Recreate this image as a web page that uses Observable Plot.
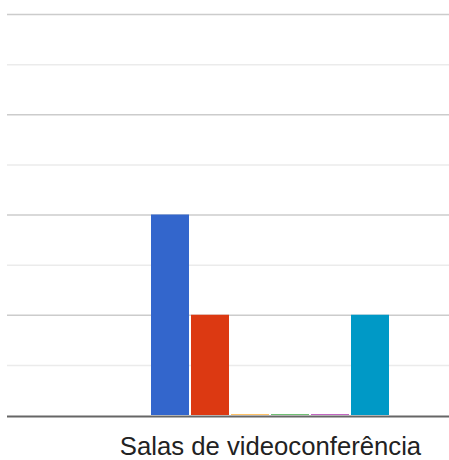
<!DOCTYPE html>
<html>
<head>
<meta charset="utf-8">
<script src="https://cdn.jsdelivr.net/npm/d3@7"></script>
<script src="https://cdn.jsdelivr.net/npm/@observablehq/plot@0.6"></script>
<style>
  html, body { margin: 0; padding: 0; background: #fff; overflow: hidden; }
</style>
</head>
<body>
<div id="chart"></div>
<script>
const category = "Salas de videoconferência";
const series = ["Série 1", "Série 2", "Série 3", "Série 4", "Série 5", "Série 6"];
const values = [4, 2, 0, 0, 0, 2];
const colors = ["#3366cc", "#dc3912", "#ff9900", "#109618", "#990099", "#0099c6"];
const majorTicks = [2, 4, 6, 8];
const minorTicks = [1, 3, 5, 7];

const data = series.map((s, i) => ({series: s, value: values[i], category}));

const chart = Plot.plot({
  width: 449,
  height: 460,
  marginLeft: 7,
  marginRight: 0,
  marginTop: 14,
  marginBottom: 45,
  style: {fontFamily: "'Liberation Sans', Arial, sans-serif", background: "#fff"},
  x: {domain: series, range: [149, 391], padding: 0.05, round: false, axis: null},
  y: {domain: [0, 8], axis: null},
  color: {domain: series, range: colors},
  marks: [
    Plot.ruleY(minorTicks, {stroke: "#ebebeb", strokeWidth: 1.5}),
    Plot.ruleY(majorTicks, {stroke: "#cccccc", strokeWidth: 1.5}),
    Plot.barY(data, {x: "series", y: "value", fill: "series"}),
    Plot.tickY(data.filter(d => d.value === 0), {x: "series", y: "value", stroke: "series", strokeWidth: 1.2, strokeOpacity: 0.6, dy: -1}),
    Plot.ruleY([0], {stroke: "#666", strokeWidth: 2, dy: 1}),
    Plot.text([category], {
      x: () => series[2],
      dx: 20,
      frameAnchor: "bottom",
      lineAnchor: "top",
      dy: 21,
      text: d => d,
      fontSize: 25.7,
      fill: "#222"
    })
  ]
});
document.getElementById("chart").appendChild(chart);
</script>
</body>
</html>
